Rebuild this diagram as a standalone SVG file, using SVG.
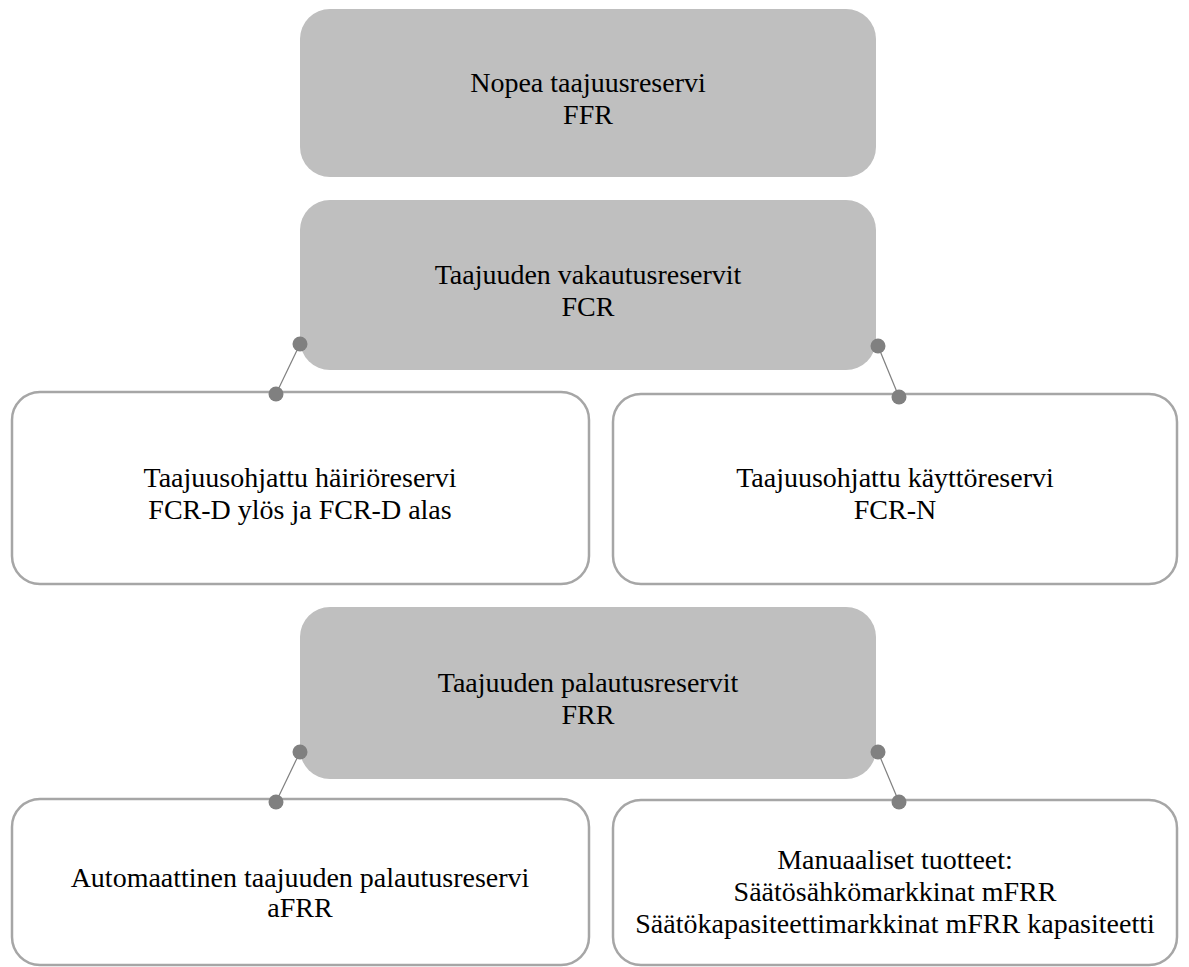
<svg xmlns="http://www.w3.org/2000/svg" width="1189" height="967" viewBox="0 0 1189 967">
<style>
.parent{fill:#bfbfbf;stroke:none}
.child{fill:#ffffff;stroke:#a6a6a6;stroke-width:2.5}
.t{font-family:"Liberation Serif","Times New Roman",serif;font-size:28px;fill:#000;text-anchor:middle}
.dot{fill:#808080}
.ln{stroke:#7f7f7f;stroke-width:1.2;fill:none}
</style>
<rect width="1189" height="967" fill="#ffffff"/>
<g id="ffr">
<rect class="parent" x="300" y="9" width="576" height="168" rx="30"/>
<text class="t" x="588" y="92">Nopea taajuusreservi</text>
<text class="t" x="588" y="124">FFR</text>
</g>
<g id="fcr">
<rect class="parent" x="300" y="200" width="576" height="170" rx="30"/>
<text class="t" x="588" y="284">Taajuuden vakautusreservit</text>
<text class="t" x="588" y="316">FCR</text>
</g>
<g id="fcrd">
<rect class="child" x="12" y="392" width="577" height="192" rx="28"/>
<text class="t" x="300" y="487">Taajuusohjattu häiriöreservi</text>
<text class="t" x="300" y="519">FCR-D ylös ja FCR-D alas</text>
</g>
<g id="fcrn">
<rect class="child" x="613" y="394" width="564" height="190" rx="28"/>
<text class="t" x="895" y="487">Taajuusohjattu käyttöreservi</text>
<text class="t" x="895" y="519">FCR-N</text>
</g>
<g id="frr">
<rect class="parent" x="300" y="607" width="576" height="172" rx="30"/>
<text class="t" x="588" y="692">Taajuuden palautusreservit</text>
<text class="t" x="588" y="724">FRR</text>
</g>
<g id="afrr">
<rect class="child" x="12" y="799" width="577" height="166" rx="28"/>
<text class="t" x="300" y="887">Automaattinen taajuuden palautusreservi</text>
<text class="t" x="300" y="917">aFRR</text>
</g>
<g id="mfrr">
<rect class="child" x="613" y="800" width="564" height="165" rx="28"/>
<text class="t" x="895" y="869">Manuaaliset tuotteet:</text>
<text class="t" x="895" y="901">Säätösähkömarkkinat mFRR</text>
<text class="t" x="895" y="933">Säätökapasiteettimarkkinat mFRR kapasiteetti</text>
</g>
<g id="connectors">
<line class="ln" x1="300" y1="344" x2="276" y2="394"/>
<circle class="dot" cx="300" cy="344" r="7.5"/>
<circle class="dot" cx="276" cy="394" r="7.5"/>
<line class="ln" x1="878" y1="346" x2="899" y2="397"/>
<circle class="dot" cx="878" cy="346" r="7.5"/>
<circle class="dot" cx="899" cy="397" r="7.5"/>
<line class="ln" x1="300" y1="752" x2="276" y2="802"/>
<circle class="dot" cx="300" cy="752" r="7.5"/>
<circle class="dot" cx="276" cy="802" r="7.5"/>
<line class="ln" x1="878" y1="752" x2="899" y2="802"/>
<circle class="dot" cx="878" cy="752" r="7.5"/>
<circle class="dot" cx="899" cy="802" r="7.5"/>
</g>
</svg>
